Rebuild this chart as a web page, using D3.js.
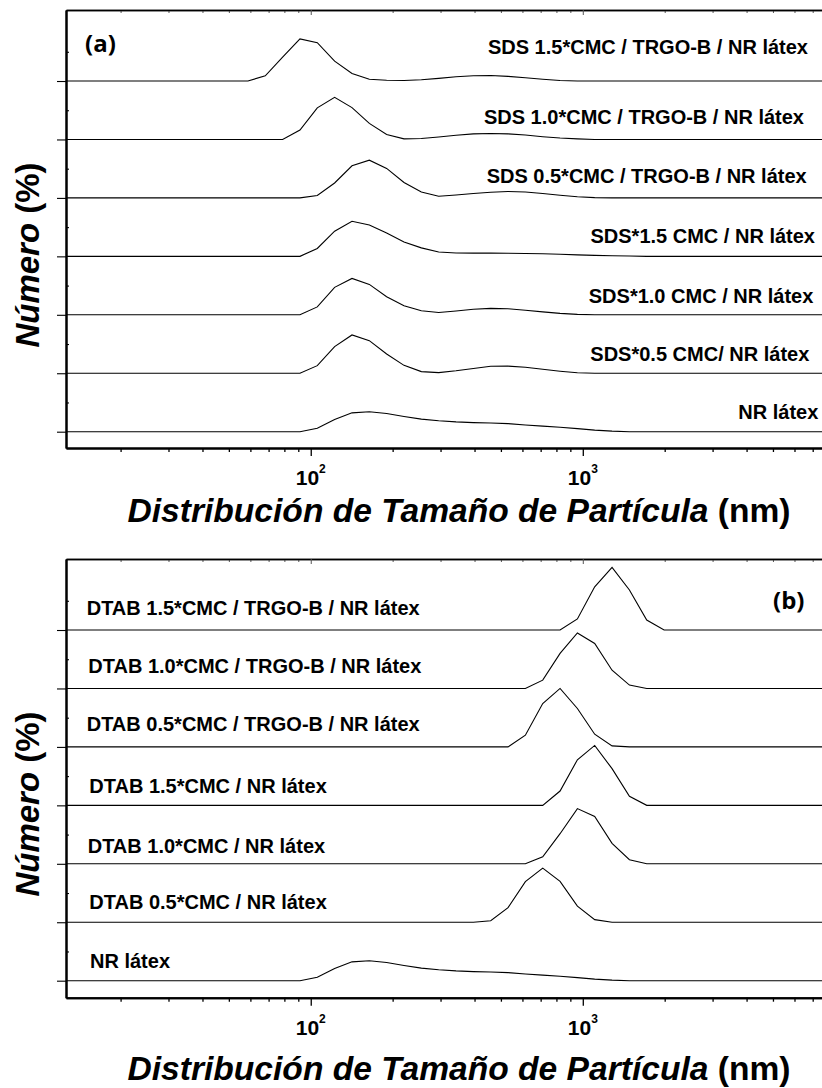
<!DOCTYPE html>
<html><head><meta charset="utf-8">
<script src="https://cdn.jsdelivr.net/npm/d3@7"></script>
<style>body{margin:0;background:#fff} svg{display:block}</style>
</head><body>
<svg id="chart" width="822" height="1088"></svg>
<script>
// Size bins (nm)
const sizes = [11.7,13.54,15.69,18.17,21.04,24.36,28.21,32.67,37.84,43.82,
  50.75,58.77,68.06,78.82,91.28,105.7,122.4,141.8,164.2,190.1,
  220.2,255.0,295.3,342.0,396.1,458.7,531.2,615.1,712.4,825.0,
  955.4,1106,1281,1484,1718,1990,2305,2669,3091,3580,
  4145,4801,5560,6439,7456,8635];

// Panel (a) – Número (%) per bin
const nrLatex = [0,0,0,0,0,0,0,0,0,0, 0,0,0,0,0,1.15,4.2,6.45,6.8,6.2, 5.2,4.3,3.75,3.35,3.1,2.95,2.75,2.3,1.9,1.5, 1.05,0.55,0.2,0,0,0,0,0,0,0, 0,0,0,0,0,0];
const sds05 = [0,0,0,0,0,0,0,0,0,0, 0,0,0,0,0,2.6,9.1,13.1,11.15,6.6, 2.7,0.55,0.2,0.85,1.65,2.4,2.45,2.05,1.35,0.7, 0.15,0,0,0,0,0,0,0,0,0, 0,0,0,0,0,0];
const sds10 = [0,0,0,0,0,0,0,0,0,0, 0,0,0,0,0,2.7,9.4,12.45,10.4,6.2, 3.1,1.4,0.8,1.3,1.9,2.2,2.05,1.55,1.0,0.5, 0.15,0,0,0,0,0,0,0,0,0, 0,0,0,0,0,0];
const sds15 = [0,0,0,0,0,0,0,0,0,0, 0,0,0,0,0,2.7,8.6,12.0,10.7,8.0, 4.9,2.9,1.5,1.15,1.1,1.1,1.05,1.0,0.9,0.7, 0.5,0.35,0.2,0.1,0,0,0,0,0,0, 0,0,0,0,0,0];
const sds05Trgo = [0,0,0,0,0,0,0,0,0,0, 0,0,0,0,0,0.8,5.1,11.0,12.9,10.1, 5.3,2.0,0.55,1.0,1.5,1.95,2.2,2.0,1.5,0.9, 0.4,0.1,0,0,0,0,0,0,0,0, 0,0,0,0,0,0];
const sds10Trgo = [0,0,0,0,0,0,0,0,0,0, 0,0,0,0,3.2,10.8,14.4,10.9,5.5,1.7, 0.2,0.35,0.85,1.45,1.9,2.05,1.9,1.5,0.95,0.5, 0.2,0,0,0,0,0,0,0,0,0, 0,0,0,0,0,0];
const sds15Trgo = [0,0,0,0,0,0,0,0,0,0, 0,0,1.8,8.2,14.4,13.1,6.8,2.6,0.6,0.25, 0.2,0.45,0.9,1.45,1.8,1.9,1.6,1.1,0.6,0.2, 0,0,0,0,0,0,0,0,0,0, 0,0,0,0,0,0];

// Panel (b)
const dtab05 = [0,0,0,0,0,0,0,0,0,0, 0,0,0,0,0,0,0,0,0,0, 0,0,0,0,0,0.5,5.0,13.9,18.5,14.0, 5.5,0.9,0,0,0,0,0,0,0,0, 0,0,0,0,0,0];
const dtab10 = [0,0,0,0,0,0,0,0,0,0, 0,0,0,0,0,0,0,0,0,0, 0,0,0,0,0,0,0,0,2.4,10.3, 18.9,16.2,7.0,1.4,0,0,0,0,0,0, 0,0,0,0,0,0];
const dtab15 = [0,0,0,0,0,0,0,0,0,0, 0,0,0,0,0,0,0,0,0,0, 0,0,0,0,0,0,0,0,0,4.9, 15.6,20.5,12.55,3.1,0,0,0,0,0,0, 0,0,0,0,0,0];
const dtab05Trgo = [0,0,0,0,0,0,0,0,0,0, 0,0,0,0,0,0,0,0,0,0, 0,0,0,0,0,0,0,4.0,14.85,20.0, 13.15,4.35,0.35,0,0,0,0,0,0,0, 0,0,0,0,0,0];
const dtab10Trgo = [0,0,0,0,0,0,0,0,0,0, 0,0,0,0,0,0,0,0,0,0, 0,0,0,0,0,0,0,0,2.85,12.0, 19.0,15.4,6.25,1.15,0,0,0,0,0,0, 0,0,0,0,0,0];
const dtab15Trgo = [0,0,0,0,0,0,0,0,0,0, 0,0,0,0,0,0,0,0,0,0, 0,0,0,0,0,0,0,0,0,0, 3.8,14.8,21.45,13.7,3.4,0,0,0,0,0, 0,0,0,0,0,0];

const labelsA = ["NR látex","SDS*0.5 CMC/ NR látex","SDS*1.0 CMC / NR látex","SDS*1.5 CMC / NR látex",
  "SDS 0.5*CMC / TRGO-B / NR látex","SDS 1.0*CMC / TRGO-B / NR látex","SDS 1.5*CMC / TRGO-B / NR látex"];
const labelsB = ["NR látex","DTAB 0.5*CMC / NR látex","DTAB 1.0*CMC / NR látex","DTAB 1.5*CMC / NR látex",
  "DTAB 0.5*CMC / TRGO-B / NR látex","DTAB 1.0*CMC / TRGO-B / NR látex","DTAB 1.5*CMC / TRGO-B / NR látex"];

const offsetStep = 20;
const majorTicks = [100, 1000];
const minorTicks = [20,30,40,50,60,70,80,90,200,300,400,500,600,700,800,900,2000,3000,4000,5000,6000,7000];
const xTitle = "Distribución de Tamaño de Partícula";
const xUnit = " (nm)";
const yTitle = "Número";
const yUnit = " (%)";

const svg = d3.select("#chart");
const FONT = "Liberation Sans, Arial, Helvetica, sans-serif";

const x = d3.scaleLog().domain([12.6, 7834]).range([66, 826]);

const panels = [
  { id: "a", tag: "(a)", top: 10, bottom: 448, yDom: [-5.58, 144.3],
    series: [nrLatex, sds05, sds10, sds15, sds05Trgo, sds10Trgo, sds15Trgo], labels: labelsA,
    anchor: "end", lx: [818.3, 809.3, 813.3, 815, 806.7, 804, 808], rise: [12.4, 12.6, 12, 13, 15, 15.5, 27.5],
    tagX: 85, tagY: 52, tickY: 485, titleY: 522, yTitleC: 255 },
  { id: "b", tag: "(b)", top: 559, bottom: 997.7, yDom: [-5.82, 144.3],
    series: [nrLatex, dtab05, dtab10, dtab15, dtab05Trgo, dtab10Trgo, dtab15Trgo], labels: labelsB,
    anchor: "start", lx: [90, 89.3, 87.7, 89.3, 86.7, 88.3, 86.7], rise: [12.7, 13.4, 10.7, 12.5, 15.6, 15.7, 15],
    tagX: 773, tagY: 609, tickY: 1035, titleY: 1080, yTitleC: 804 }
];

panels.forEach(p => {
  const y = d3.scaleLinear().domain(p.yDom).range([p.bottom, p.top]);
  const g = svg.append("g");

  g.append("clipPath").attr("id", "clip-" + p.id)
    .append("rect").attr("x", 66).attr("y", p.top).attr("width", 822 - 66).attr("height", p.bottom - p.top);

  // series
  const lines = g.append("g").attr("clip-path", `url(#clip-${p.id})`);
  p.series.forEach((vals, k) => {
    const off = k * offsetStep;
    const line = d3.line().x((d, i) => x(sizes[i])).y(d => y(d + off));
    lines.append("path").datum(vals).attr("d", line)
      .attr("fill", "none").attr("stroke", "#000").attr("stroke-width", 1.1).attr("stroke-linejoin", "miter");
  });

  // bottom axis
  const bx = g.append("g").attr("transform", `translate(0,${p.bottom})`);
  bx.append("g").call(d3.axisBottom(x).tickValues(minorTicks).tickSize(4).tickSizeOuter(0).tickFormat(""));
  bx.append("g").call(d3.axisBottom(x).tickValues(majorTicks).tickSize(8).tickSizeOuter(0).tickFormat(""));
  bx.selectAll(".domain").attr("stroke-width", 2);
  bx.selectAll(".tick line").attr("stroke-width", 1.3);

  // top axis (mirror ticks inward)
  const tx = g.append("g").attr("transform", `translate(0,${p.top})`);
  tx.append("g").call(d3.axisTop(x).tickValues(minorTicks).tickSize(-3).tickSizeOuter(0).tickFormat(""));
  tx.append("g").call(d3.axisTop(x).tickValues(majorTicks).tickSize(-5).tickSizeOuter(0).tickFormat(""));
  tx.selectAll(".domain").attr("stroke-width", 1.6);
  tx.selectAll(".tick line").attr("stroke", "#555");

  // left axis
  const offsets = p.series.map((s, k) => k * offsetStep);
  const minorY = p.series.map((s, k) => k * offsetStep + offsetStep / 2);
  const ly = g.append("g").attr("transform", "translate(66,0)");
  ly.append("g").call(d3.axisLeft(y).tickValues(minorY).tickSize(-3).tickSizeOuter(0).tickFormat(""));
  ly.append("g").call(d3.axisLeft(y).tickValues(offsets).tickSize(9).tickSizeOuter(0).tickFormat(""));
  ly.selectAll(".domain").attr("stroke-width", 2);
  ly.selectAll(".tick line").attr("stroke-width", 1.1);

  // major tick labels 10^n
  majorTicks.forEach(v => {
    const t = g.append("text").attr("x", x(v)).attr("y", p.tickY)
      .attr("text-anchor", "middle").style("font-family", FONT).style("font-weight", "700").style("font-size", "21px");
    t.append("tspan").text("10");
    t.append("tspan").style("font-size", "12px").attr("dy", -12).text(String(Math.round(Math.log10(v))));
  });

  // series labels
  p.labels.forEach((lab, k) => {
    g.append("text").attr("x", p.lx[k]).attr("y", y(k * offsetStep) - p.rise[k])
      .attr("text-anchor", p.anchor).style("font-family", FONT).style("font-weight", "700").style("font-size", "20px")
      .attr("fill", "#000").text(lab);
  });

  // panel tag
  g.append("text").attr("x", p.tagX).attr("y", p.tagY)
    .style("font-family", "Open Sans, Liberation Sans, sans-serif").style("font-weight", "700").style("font-size", "24px").text(p.tag);

  // x title
  const xt = g.append("text").attr("x", 459).attr("y", p.titleY).attr("text-anchor", "middle")
    .style("font-family", FONT).style("font-weight", "700").style("font-size", "33.6px");
  xt.append("tspan").style("font-style", "italic").text(xTitle);
  xt.append("tspan").text(xUnit);

  // y title
  const yt = g.append("text").attr("transform", `translate(39,${p.yTitleC}) rotate(-90)`).attr("text-anchor", "middle")
    .style("font-family", FONT).style("font-weight", "700").style("font-size", "33px");
  yt.append("tspan").style("font-style", "italic").text(yTitle);
  yt.append("tspan").text(yUnit);
});
</script>
</body></html>
